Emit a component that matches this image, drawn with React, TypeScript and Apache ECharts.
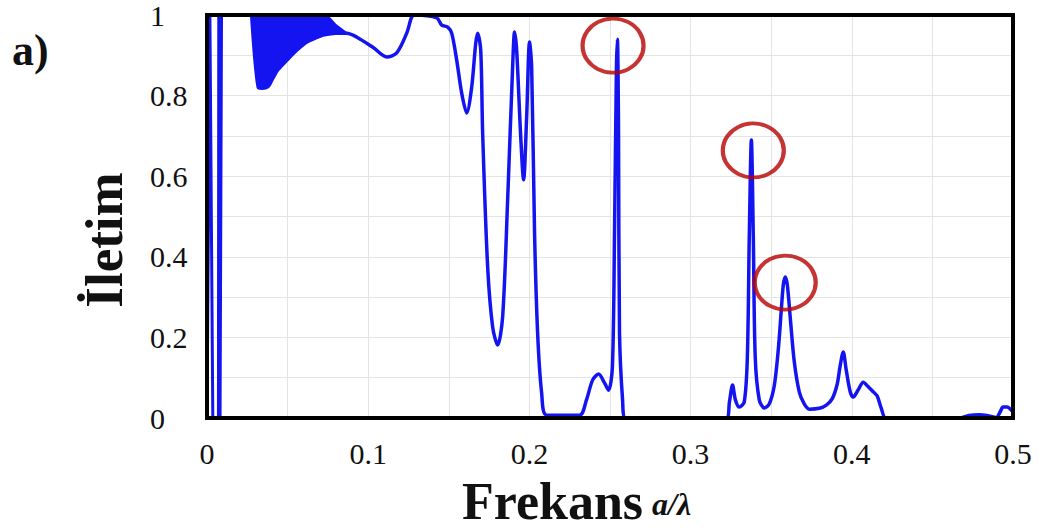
import React, { useEffect, useRef } from "react";
import * as echarts from "echarts";

// Tick labels
const xTicks = [0, 0.1, 0.2, 0.3, 0.4, 0.5];
const yTicks = [0, 0.2, 0.4, 0.6, 0.8, 1];

// Curve before the dense-oscillation band (spikes near f = 0)
const freqA = [0, 0.0018, 0.0036, 0.0071, 0.0073, 0.0081, 0.009, 0.0277];
const transA = [0, 1, 0, 0, 1, 0, 1, 1];

// Dense oscillation band (lower / upper envelope)
const bandFreq = [0.0277, 0.0318, 0.0341, 0.0378, 0.0403, 0.044, 0.0496, 0.0558, 0.062, 0.0719, 0.0743, 0.08, 0.0867];
const bandLower = [1.0, 0.82, 0.818, 0.822, 0.839, 0.864, 0.888, 0.913, 0.933, 0.95, 0.952, 0.955, 0.955];
const bandUpper = [1, 1, 1, 1, 1, 1, 1, 1, 1, 1, 1, 0.975, 0.955];

// Curve after the band
const freqB = [
  0.093, 0.1029, 0.1115, 0.1177, 0.1239, 0.127, 0.129, 0.1425, 0.1456, 0.1493, 0.1518, 0.1549, 0.158,
  0.1611, 0.1642, 0.1667, 0.1679, 0.1698, 0.171, 0.1741, 0.1772, 0.1803, 0.1834, 0.1865, 0.1896, 0.1908,
  0.1921, 0.1945, 0.1964, 0.1983, 0.2001, 0.2014, 0.2032, 0.2051, 0.2076, 0.2107, 0.2311, 0.2354, 0.2392,
  0.2429, 0.2466, 0.2491, 0.2515, 0.2528, 0.254, 0.2546, 0.2553, 0.2559, 0.2578, 0.2596, 0.3222, 0.3241,
  0.326, 0.3278, 0.3302, 0.3333, 0.3352, 0.3364, 0.3377, 0.3389, 0.3401, 0.3426, 0.3457, 0.3488, 0.3519,
  0.3544, 0.3563, 0.3575, 0.3587, 0.36, 0.3618, 0.3643, 0.3674, 0.3705, 0.3736, 0.3799, 0.3842, 0.3879,
  0.391, 0.3928, 0.3947, 0.3965, 0.399, 0.4009, 0.404, 0.4071, 0.4101, 0.4133, 0.4157, 0.4182, 0.4213,
  0.4665, 0.4727, 0.4789, 0.4851, 0.4895, 0.492, 0.4938, 0.4963, 0.4988, 0.5,
];
const transB = [
  0.945, 0.92, 0.896, 0.906, 0.955, 0.995, 1.0, 0.993, 0.975, 0.97, 0.955, 0.888, 0.806,
  0.757, 0.821, 0.93, 0.955, 0.913, 0.707, 0.375, 0.226, 0.181, 0.251, 0.541, 0.871, 0.958,
  0.913, 0.707, 0.591, 0.747, 0.933, 0.871, 0.459, 0.211, 0.062, 0.007, 0.007, 0.045, 0.094,
  0.109, 0.087, 0.069, 0.127, 0.459, 0.871, 0.94, 0.707, 0.211, 0.045, 0.0, 0.0, 0.04,
  0.082, 0.045, 0.027, 0.04, 0.15, 0.45, 0.69, 0.45, 0.15, 0.045, 0.025, 0.035, 0.08,
  0.17, 0.27, 0.33, 0.35, 0.33, 0.25, 0.14, 0.065, 0.035, 0.022, 0.024, 0.032, 0.048,
  0.085, 0.13, 0.164, 0.12, 0.065, 0.052, 0.07, 0.089, 0.078, 0.065, 0.055, 0.025, 0.0,
  0.0, 0.006, 0.008, 0.005, 0.001, 0.015, 0.027, 0.027, 0.02, 0.015,
];

// Red highlight circles (centres in data coordinates)
const circleFreq = [0.2519, 0.3389, 0.3587];
const circleTrans = [0.924, 0.664, 0.336];

const BLUE = "#1414f0";
const FONT = "'Liberation Serif', 'Times New Roman', serif";

export default function App() {
  const ref = useRef<HTMLDivElement>(null);

  useEffect(() => {
    if (!ref.current) return;
    const chart = echarts.init(ref.current, undefined, { renderer: "svg" });

    const spikeData = freqA.map((f, i) => [f, transA[i]]);
    const curveData: number[][] = [];
    bandFreq.forEach((f, i) => curveData.push([f, bandLower[i]]));
    freqB.forEach((f, i) => curveData.push([f, transB[i]]));

    const bandData = bandFreq.map((f, i) => [f, bandLower[i], bandUpper[i]]);
    const circles = circleFreq.map((f, i) => [f, circleTrans[i]]);

    const grid = { show: true, lineStyle: { color: "#e4e4e4", width: 1 } };

    chart.setOption({
      animation: false,
      backgroundColor: "#fff",
      grid: { left: 207, right: 25, top: 15, bottom: 113 },
      xAxis: {
        type: "value",
        min: xTicks[0],
        max: xTicks[xTicks.length - 1],
        interval: 0.1,
        axisLine: { show: false },
        axisTick: { show: false },
        axisLabel: {
          margin: 20,
          fontFamily: FONT,
          fontSize: 30,
          color: "#111",
          formatter: (v: number) => String(+v.toFixed(2)),
        },
        splitLine: grid,
        minorTick: { show: false, splitNumber: 2 },
        minorSplitLine: grid,
      },
      yAxis: {
        type: "value",
        min: yTicks[0],
        max: yTicks[yTicks.length - 1],
        interval: 0.2,
        axisLine: { show: false },
        axisTick: { show: false },
        axisLabel: {
          align: "left",
          margin: 57,
          fontFamily: FONT,
          fontSize: 30,
          color: "#111",
          formatter: (v: number) => String(+v.toFixed(2)),
        },
        splitLine: grid,
        minorTick: { show: false, splitNumber: 2 },
        minorSplitLine: grid,
      },
      series: [
        {
          type: "custom",
          name: "band",
          data: bandData,
          encode: { x: 0, y: [1, 2] },
          z: 2,
          silent: true,
          renderItem: (params: any, api: any) => {
            if (params.dataIndex !== 0) return null;
            const upper = bandData.map((d) => api.coord([d[0], d[2]]));
            const lower = bandData.map((d) => api.coord([d[0], d[1]])).reverse();
            return {
              type: "polygon",
              shape: { points: upper.concat(lower) },
              style: { fill: BLUE, stroke: BLUE, lineWidth: 2 },
            };
          },
        },
        {
          type: "line",
          name: "spikes",
          data: spikeData,
          showSymbol: false,
          lineStyle: { width: 3, color: BLUE },
          z: 3,
        },
        {
          type: "line",
          name: "İletim",
          data: curveData,
          showSymbol: false,
          smooth: 0.3,
          lineStyle: { width: 3.5, color: BLUE },
          z: 3,
        },
        {
          type: "scatter",
          data: circles,
          symbol: "circle",
          symbolSize: [61, 54],
          itemStyle: { color: "rgba(0,0,0,0)", borderColor: "#b80000", borderWidth: 4 },
          z: 12,
          silent: true,
        },
      ],
      graphic: [
        {
          type: "rect",
          z: 100,
          silent: true,
          shape: { x: 207, y: 15, width: 806, height: 403 },
          style: { fill: "none", stroke: "#000", lineWidth: 4 },
        },
        {
          type: "text",
          left: 12,
          top: 28,
          style: { text: "a)", font: `bold 44px ${FONT}`, fill: "#111" },
        },
        {
          type: "text",
          x: 104,
          y: 240,
          rotation: Math.PI / 2,
          style: {
            text: "İletim",
            font: `bold 53px ${FONT}`,
            fill: "#111",
            align: "center",
            verticalAlign: "middle",
          },
        },
        {
          type: "text",
          x: 462,
          y: 501,
          style: { text: "Frekans", font: `bold 52px ${FONT}`, fill: "#111", align: "left", verticalAlign: "middle" },
        },
        {
          type: "text",
          x: 652,
          y: 504,
          style: { text: "a/λ", font: `italic bold 32px ${FONT}`, fill: "#111", align: "left", verticalAlign: "middle" },
        },
      ],
    });

    return () => chart.dispose();
  }, []);

  return (
    <div
      ref={ref}
      style={{ position: "fixed", left: 0, top: 0, width: 1038, height: 531, background: "#fff" }}
    />
  );
}
